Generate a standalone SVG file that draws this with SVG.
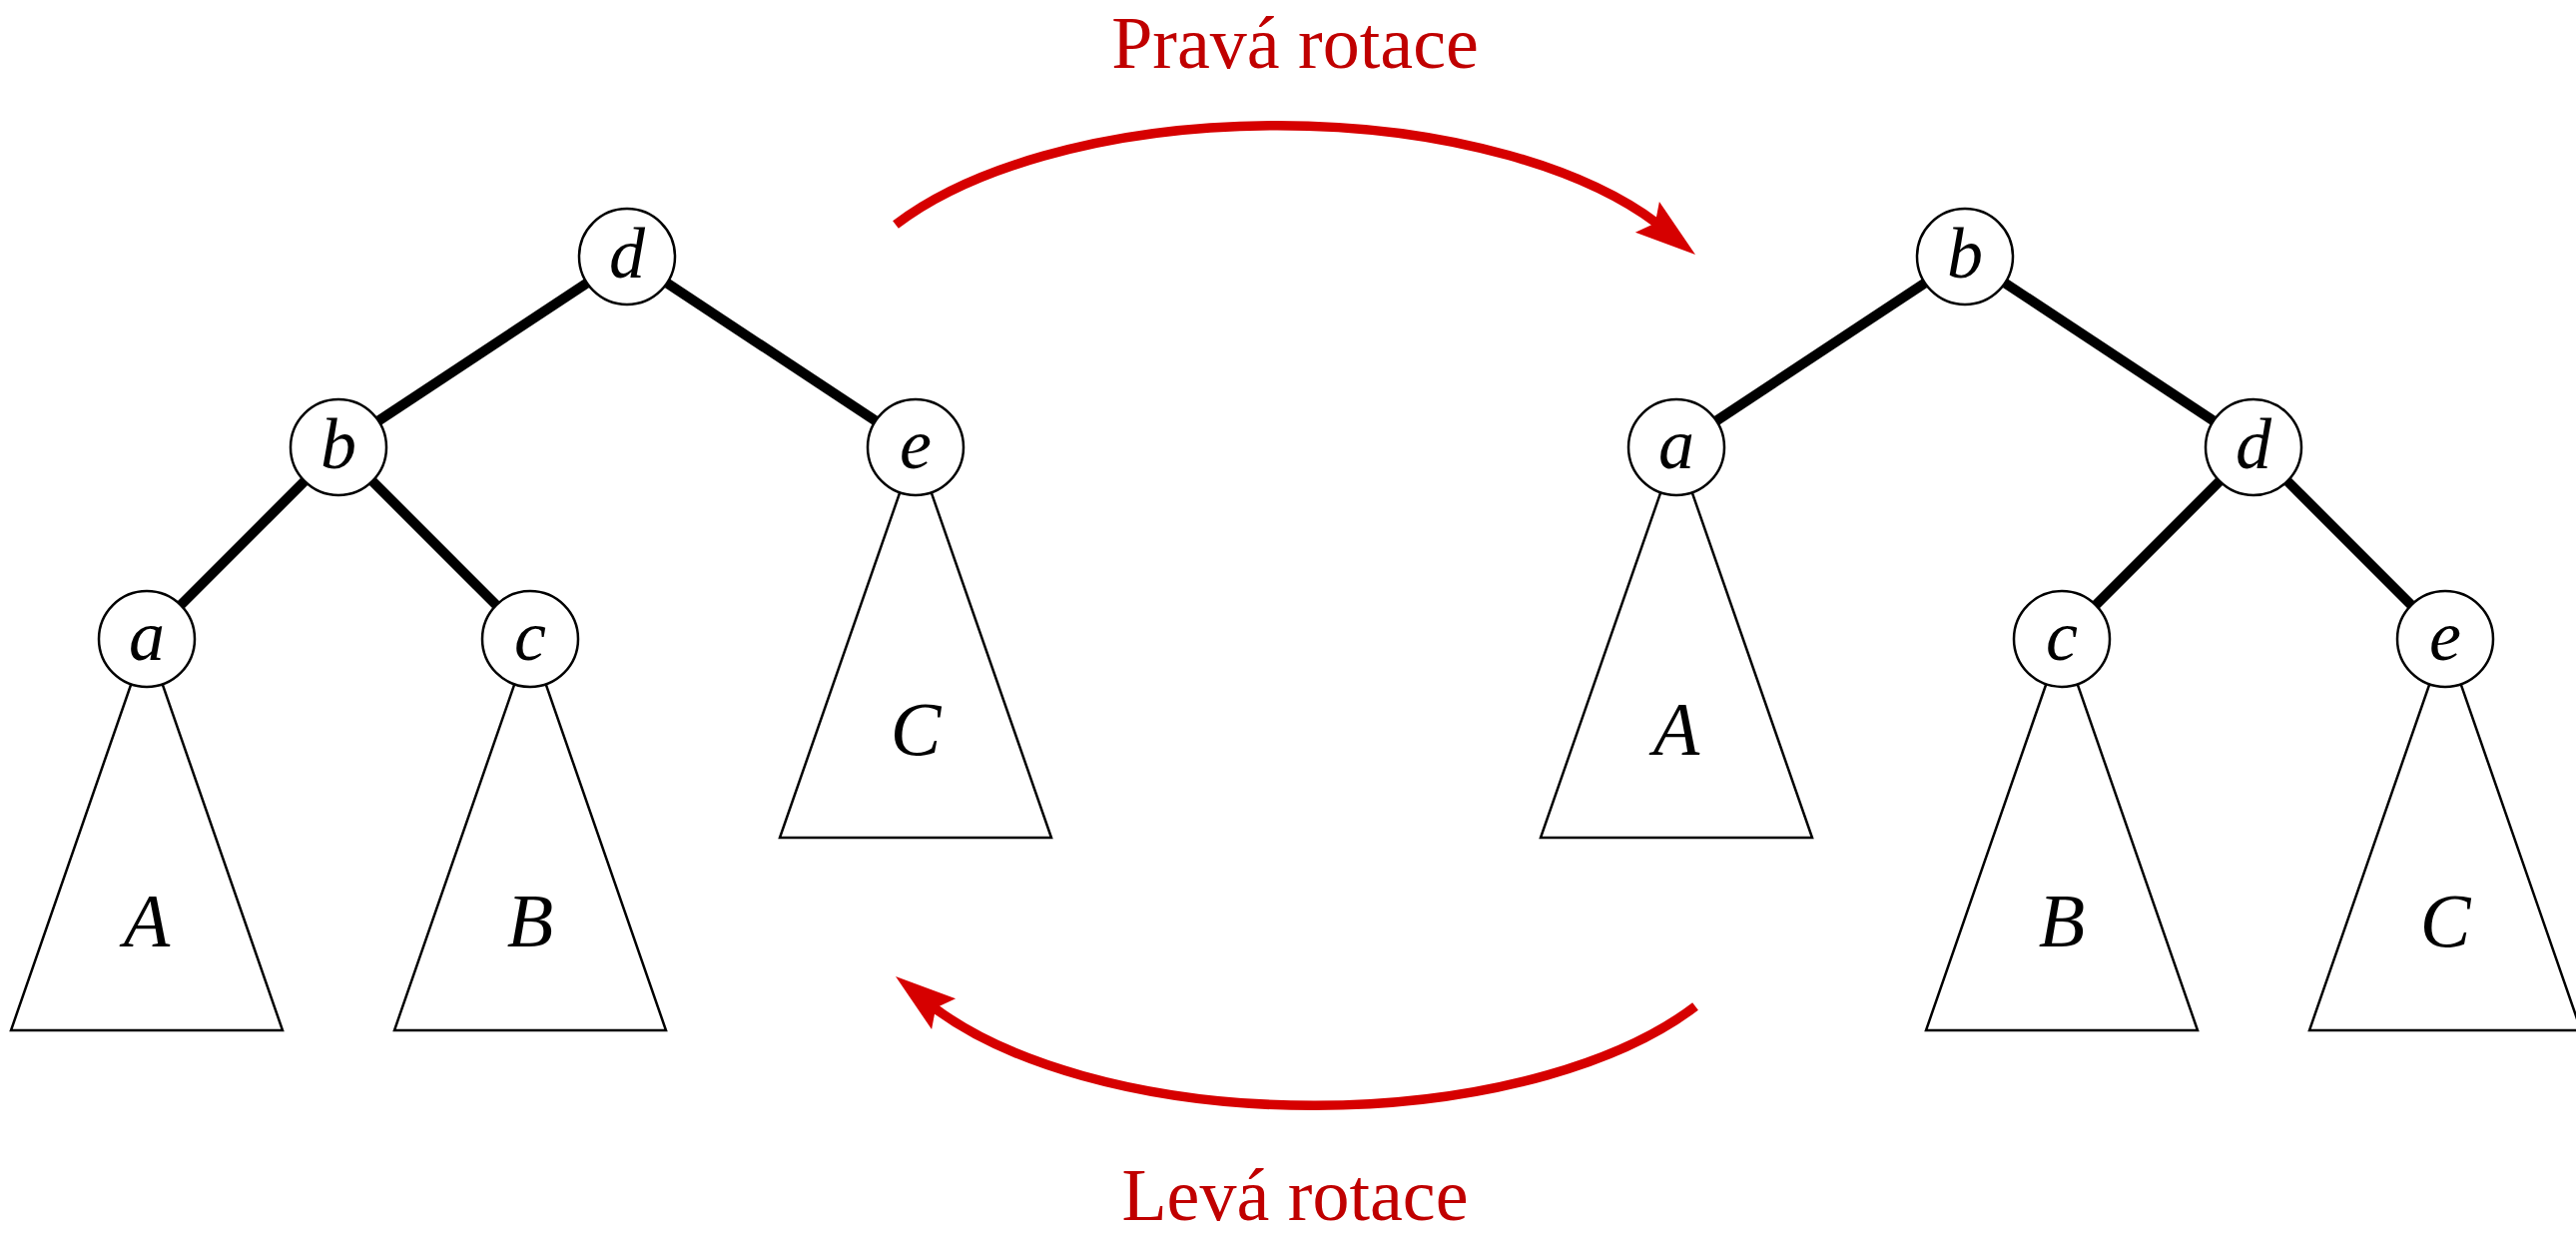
<svg xmlns="http://www.w3.org/2000/svg" width="2580" height="1237" viewBox="0 0 2580 1237">
<style>
.edge{stroke:#000;stroke-width:10;stroke-linecap:butt;fill:none}
.node circle{fill:#fff;stroke:#000;stroke-width:2.5}
.node text{font-family:"Liberation Serif",serif;font-style:italic;font-size:72px;text-anchor:middle;fill:#000}
.sub polygon{fill:#fff;stroke:#000;stroke-width:2.5;stroke-linejoin:miter}
.sub text{font-family:"Liberation Serif",serif;font-style:italic;font-size:76px;text-anchor:middle;fill:#000}
.arc{stroke:#d60000;stroke-width:9.5;fill:none}
.head{fill:#d60000;stroke:none}
.lbl{font-family:"Liberation Serif",serif;font-size:74px;text-anchor:middle;fill:#c00000}
</style>
<rect width="2580" height="1237" fill="#fff"/>

<g id="connectors">
<line class="edge" x1="628" y1="257" x2="339" y2="448"/>
<line class="edge" x1="628" y1="257" x2="917" y2="448"/>
<line class="edge" x1="339" y1="448" x2="147" y2="640"/>
<line class="edge" x1="339" y1="448" x2="531" y2="640"/>
<line class="edge" x1="1968" y1="257" x2="1679" y2="448"/>
<line class="edge" x1="1968" y1="257" x2="2257" y2="448"/>
<line class="edge" x1="2257" y1="448" x2="2065" y2="640"/>
<line class="edge" x1="2257" y1="448" x2="2449" y2="640"/>
<g id="arrow-right-rotation">
<path class="arc" d="M897,225 A446,205 0 0 1 1660,224"/>
<polygon class="head" points="1698,255 1637.9,232.8 1657.8,223.6 1661.9,202"/>
</g>
<g id="arrow-left-rotation">
<path class="arc" d="M1698,1008 A446,205 0 0 1 935,1009"/>
<polygon class="head" points="897,978 957.1,1000.2 937.2,1009.4 933.1,1031"/>
</g>
</g>

<g id="subtree-A-left" class="sub"><polygon points="147,640 11,1032 283,1032"/><text x="147" y="948">A</text></g>
<g id="subtree-B-left" class="sub"><polygon points="531,640 395,1032 667,1032"/><text x="531" y="948">B</text></g>
<g id="subtree-C-left" class="sub"><polygon points="917,448 781,839 1053,839"/><text x="917" y="756">C</text></g>
<g id="subtree-A-right" class="sub"><polygon points="1679,448 1543,839 1815,839"/><text x="1679" y="756">A</text></g>
<g id="subtree-B-right" class="sub"><polygon points="2065,640 1929,1032 2201,1032"/><text x="2065" y="948">B</text></g>
<g id="subtree-C-right" class="sub"><polygon points="2449,640 2313,1032 2585,1032"/><text x="2449" y="948">C</text></g>

<g id="node-d-left" class="node"><circle cx="628" cy="257" r="48"/><text x="628" y="278">d</text></g>
<g id="node-b-left" class="node"><circle cx="339" cy="448" r="48"/><text x="339" y="469">b</text></g>
<g id="node-e-left" class="node"><circle cx="917" cy="448" r="48"/><text x="917" y="469">e</text></g>
<g id="node-a-left" class="node"><circle cx="147" cy="640" r="48"/><text x="147" y="661">a</text></g>
<g id="node-c-left" class="node"><circle cx="531" cy="640" r="48"/><text x="531" y="661">c</text></g>

<g id="node-b-right" class="node"><circle cx="1968" cy="257" r="48"/><text x="1968" y="278">b</text></g>
<g id="node-a-right" class="node"><circle cx="1679" cy="448" r="48"/><text x="1679" y="469">a</text></g>
<g id="node-d-right" class="node"><circle cx="2257" cy="448" r="48"/><text x="2257" y="469">d</text></g>
<g id="node-c-right" class="node"><circle cx="2065" cy="640" r="48"/><text x="2065" y="661">c</text></g>
<g id="node-e-right" class="node"><circle cx="2449" cy="640" r="48"/><text x="2449" y="661">e</text></g>

<text class="lbl" x="1297" y="68">Pravá rotace</text>
<text class="lbl" x="1297" y="1222">Levá rotace</text>
</svg>
